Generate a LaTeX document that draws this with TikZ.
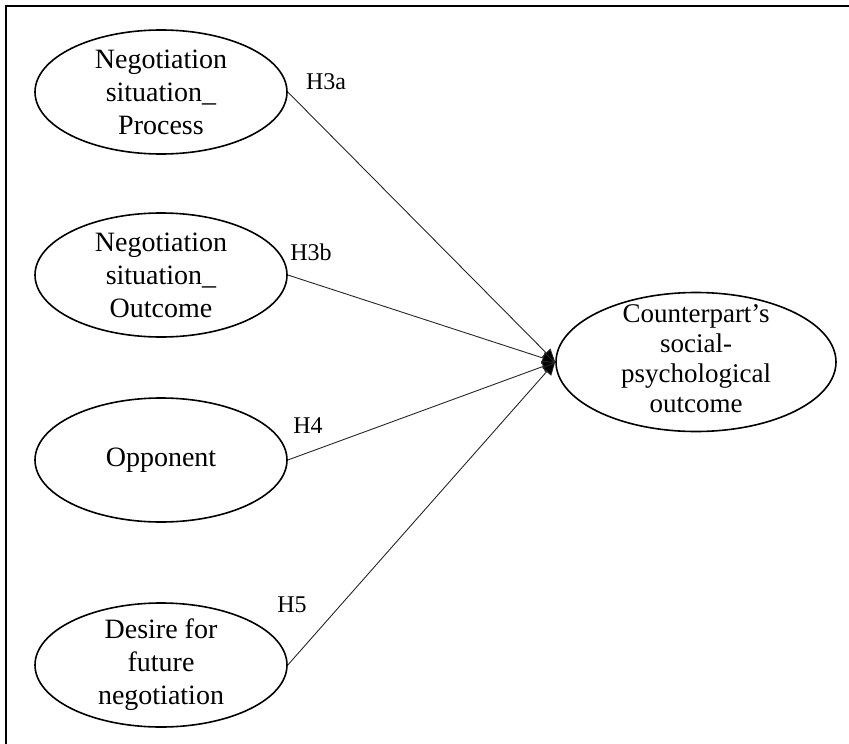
\documentclass[tikz,border=0pt]{standalone}
\usepackage{fontspec}
\setmainfont{Liberation Serif}
\usetikzlibrary{shapes.geometric,arrows.meta}
\tikzset{
  oval/.style={shape=ellipse, draw, line width=1.6pt, inner sep=0pt,
    minimum width=252pt, minimum height=124pt},
  bigoval/.style={oval, minimum width=280pt, minimum height=139pt},
  lbl/.style={align=center, inner sep=0pt, font=\fontsize{28}{33}\selectfont},
  biglbl/.style={align=center, inner sep=0pt, font=\fontsize{27}{30}\selectfont},
  hyp/.style={inner sep=0pt, font=\fontsize{24}{28}\selectfont},
  link/.style={line width=0.9pt, draw=black!85,
    -{Triangle[length=13pt,width=12pt,fill=black]}}
}
\begin{document}
\begin{tikzpicture}[x=1pt,y=-1pt]
\useasboundingbox (0,0) rectangle (849,744);
% partial frame
\draw[line width=2.5pt] (6,744) -- (6,6) -- (849,6);

% predictors
\node[oval] (p1) at (161,92) {};
\node[lbl] (p1t) at (p1) {Negotiation\\situation\_\\Process};
\node[oval] (p2) at (161,275) {};
\node[lbl] (p2t) at (p2) {Negotiation\\situation\_\\Outcome};
\node[oval] (p3) at (161,460) {};
\node[lbl] (p3t) at (p3) {Opponent};
\node[oval] (p4) at (161,665) {};
\node[lbl] (p4t) at (p4) {Desire for\\future\\negotiation};

% outcome
\node[bigoval] (t) at (696,362) {};
\node[biglbl] (tt) at ([yshift=3pt]t.center) {Counterpart’s\\social-\\psychological\\outcome};

% paths
\draw[link] (p1.east) -- (t.west);
\draw[link] (p2.east) -- (t.west);
\draw[link] (p3.east) -- (t.west);
\draw[link] (p4.east) -- (t.west);

% hypothesis labels
\node[hyp] (h3a) at (326,82) {H3a};
\node[hyp] (h3b) at (311,252) {H3b};
\node[hyp] (h4) at (308,426) {H4};
\node[hyp] (h5) at (292,605) {H5};
\end{tikzpicture}
\end{document}
